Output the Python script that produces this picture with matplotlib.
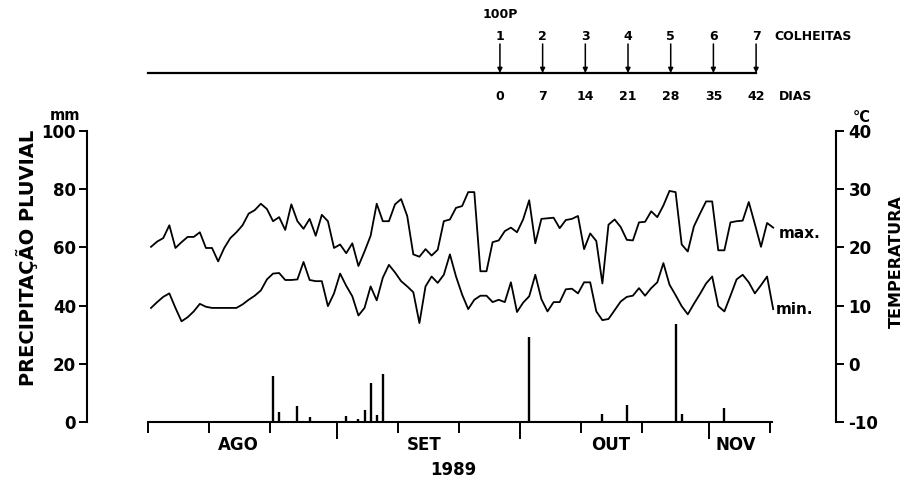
import matplotlib.pyplot as plt

plt.rcParams['axes.unicode_minus'] = False

# precipitação diária (mm) - dia contado a partir de 1 de agosto de 1989
chuva_dias = [7, 10, 21, 22, 25, 27, 33, 35, 36, 37, 38, 39, 57, 63, 75, 79, 87, 88, 95]
chuva_mm = [0.5, 0.5, 15.9, 3.4, 5.5, 1.8, 2.0, 1.0, 4.2, 13.4, 2.4, 16.5,
            0.5, 29.3, 2.9, 5.8, 33.6, 2.6, 4.7]

# temperaturas diárias (°C), 1 ago .. 12 nov
temp_max = [20.1, 21.0, 21.6, 23.8, 19.9, 20.9, 21.8, 21.8, 22.6, 19.9,
            19.9, 17.6, 19.9, 21.6, 22.6, 23.8, 25.8, 26.4, 27.5, 26.6,
            24.5, 25.2, 23.0, 27.4, 24.5, 23.2, 24.9, 22.0, 25.6, 24.5,
            19.9, 20.5, 19.0, 20.7, 16.8, 19.3, 22.0, 27.5, 24.5, 24.5,
            27.4, 28.3, 25.4, 18.8, 18.4, 19.7, 18.6, 19.6, 24.5, 24.8,
            26.8, 27.1, 29.5, 29.5, 15.9, 15.9, 20.9, 21.2, 22.8, 23.4,
            22.6, 24.8, 28.1, 20.7, 24.9, 25.0, 25.1, 23.3, 24.7, 24.9,
            25.4, 19.7, 22.4, 21.1, 13.8, 23.9, 24.8, 23.5, 21.3, 21.2,
            24.3, 24.4, 26.2, 25.2, 27.2, 29.7, 29.5, 20.5, 19.3, 23.6,
            25.8, 27.9, 27.9, 19.5, 19.5, 24.3, 24.5, 24.6, 27.8, 24.0,
            20.1, 24.2, 23.4]
temp_min = [9.6, 10.6, 11.5, 12.1, 9.6, 7.3, 8.0, 9.0, 10.3, 9.8,
            9.6, 9.6, 9.6, 9.6, 9.6, 10.2, 11.0, 11.7, 12.6, 14.5,
            15.5, 15.6, 14.4, 14.4, 14.5, 17.5, 14.4, 14.2, 14.2, 9.9,
            12.1, 15.5, 13.4, 11.6, 8.3, 9.6, 13.3, 10.9, 14.8, 17.0,
            15.7, 14.2, 13.3, 12.3, 7.0, 13.3, 15.0, 13.9, 15.3, 18.8,
            15.0, 11.9, 9.4, 11.0, 11.7, 11.7, 10.6, 11.0, 10.6, 14.0,
            8.9, 10.5, 11.6, 15.3, 11.1, 9.0, 10.6, 10.6, 12.8, 12.9,
            12.1, 14.0, 14.0, 9.0, 7.5, 7.7, 9.2, 10.7, 11.5, 11.7,
            13.0, 11.7, 13.0, 14.0, 17.3, 13.6, 11.8, 9.9, 8.5, 10.3,
            12.0, 13.8, 15.0, 9.9, 9.0, 11.7, 14.5, 15.3, 14.0, 12.1,
            13.5, 15.0, 9.4]

meses = ['AGO', 'SET', 'OUT', 'NOV']
inicio_meses = [0, 31, 61, 92, 102]
dezenas = [0, 10, 20, 41, 51, 71, 81, 102]

colheitas = ['1', '2', '3', '4', '5', '6', '7']
colheita_dias = [0, 7, 14, 21, 28, 35, 42]
dia_100p = 57.7  # dia do 100% de polinização

W, H = 909, 486
fig = plt.figure(figsize=(W / 100, H / 100), dpi=100)


def caixa(x0, y0, x1, y1):
    return [x0 / W, 1 - y1 / H, (x1 - x0) / W, (y1 - y0) / H]


xlim = (-10.0, 112.8)

ax = fig.add_axes(caixa(87, 131, 836, 422))
ax.set_xlim(*xlim)
ax.set_ylim(0, 100)
ax.vlines([d - 0.5 for d in chuva_dias], 0, chuva_mm, color='k', lw=1.7)

ax.spines['top'].set_visible(False)
ax.spines['right'].set_visible(False)
ax.spines['left'].set_bounds(0, 100)
ax.spines['bottom'].set_bounds(0, 102.3)
for s in ('left', 'bottom'):
    ax.spines[s].set_linewidth(1.5)
ax.set_yticks([0, 20, 40, 60, 80, 100])
ax.tick_params(axis='y', direction='out', length=6, width=1.4, labelsize=12, pad=2)
for lab in ax.get_yticklabels():
    lab.set_fontweight('bold')
ax.set_xticks(inicio_meses[1:4])
ax.set_xticks(dezenas, minor=True)
ax.tick_params(axis='x', which='major', direction='out', length=12, width=1.4, labelbottom=False)
ax.tick_params(axis='x', which='minor', direction='out', length=8, width=1.4, labelbottom=False)

for i, m in enumerate(meses):
    centro = (inicio_meses[i] + inicio_meses[i + 1]) / 2 - 0.7
    ax.text(centro, -0.079, m, transform=ax.get_xaxis_transform(),
            ha='center', va='center', fontsize=12, fontweight='bold')

ax2 = ax.twinx()
ax2.set_ylim(-10, 40)
dias = [d - 0.5 for d in range(1, len(temp_max) + 1)]
ax2.plot(dias, temp_max, color='k', lw=1.3)
ax2.plot(dias, temp_min, color='k', lw=1.3)
ax2.annotate('max.', xy=(dias[-1], temp_max[-1]), xytext=(4, -4), textcoords='offset points',
             ha='left', va='center', fontsize=11, fontweight='bold')
ax2.annotate('min.', xy=(dias[-1], temp_min[-1]), xytext=(2, 0), textcoords='offset points',
             ha='left', va='center', fontsize=11, fontweight='bold')
for s in ('top', 'left', 'bottom'):
    ax2.spines[s].set_visible(False)
ax2.spines['right'].set_linewidth(1.5)
ax2.set_yticks([-10, 0, 10, 20, 30, 40])
ax2.tick_params(axis='y', direction='out', length=6, width=1.4, labelsize=12, pad=3)
for lab in ax2.get_yticklabels():
    lab.set_fontweight('bold')

fig.text(27 / W, 1 - 258 / H, 'PRECIPITAÇÃO PLUVIAL', rotation=90, ha='center', va='center',
         fontsize=14, fontweight='bold')
fig.text(65 / W, 1 - 116 / H, 'mm', ha='center', va='center', fontsize=10.5, fontweight='bold')
fig.text(896 / W, 1 - 262 / H, 'TEMPERATURA', rotation=90, ha='center', va='center',
         fontsize=11.5, fontweight='bold')
fig.text(862 / W, 1 - 117 / H, '°C', ha='center', va='center', fontsize=10.5, fontweight='bold')
fig.text(453 / W, 1 - 470 / H, '1989', ha='center', va='center', fontsize=12, fontweight='bold')

# linha do tempo das colheitas
axt = fig.add_axes(caixa(87, 0, 836, 110))
axt.set_xlim(*xlim)
axt.set_ylim(110, 0)
axt.axis('off')
fim = dia_100p + colheita_dias[-1]
axt.plot([0, fim], [73, 73], color='k', lw=1.6)
for c, d in zip(colheitas, colheita_dias):
    u = dia_100p + d
    axt.annotate('', xy=(u, 73), xytext=(u, 44),
                 arrowprops=dict(arrowstyle='-|>', lw=1.1, color='k', mutation_scale=7,
                                 shrinkA=0, shrinkB=0))
    axt.text(u, 36, c, ha='center', va='center', fontsize=9, fontweight='bold')
    axt.text(u, 97, str(d), ha='center', va='center', fontsize=9, fontweight='bold')
axt.text(dia_100p, 14, '100P', ha='center', va='center', fontsize=9, fontweight='bold')
axt.text(fim + 3.0, 36, 'COLHEITAS', ha='left', va='center', fontsize=9, fontweight='bold')
axt.text(fim + 3.8, 97, 'DIAS', ha='left', va='center', fontsize=9, fontweight='bold')

fig.savefig('out.png', dpi=100)
